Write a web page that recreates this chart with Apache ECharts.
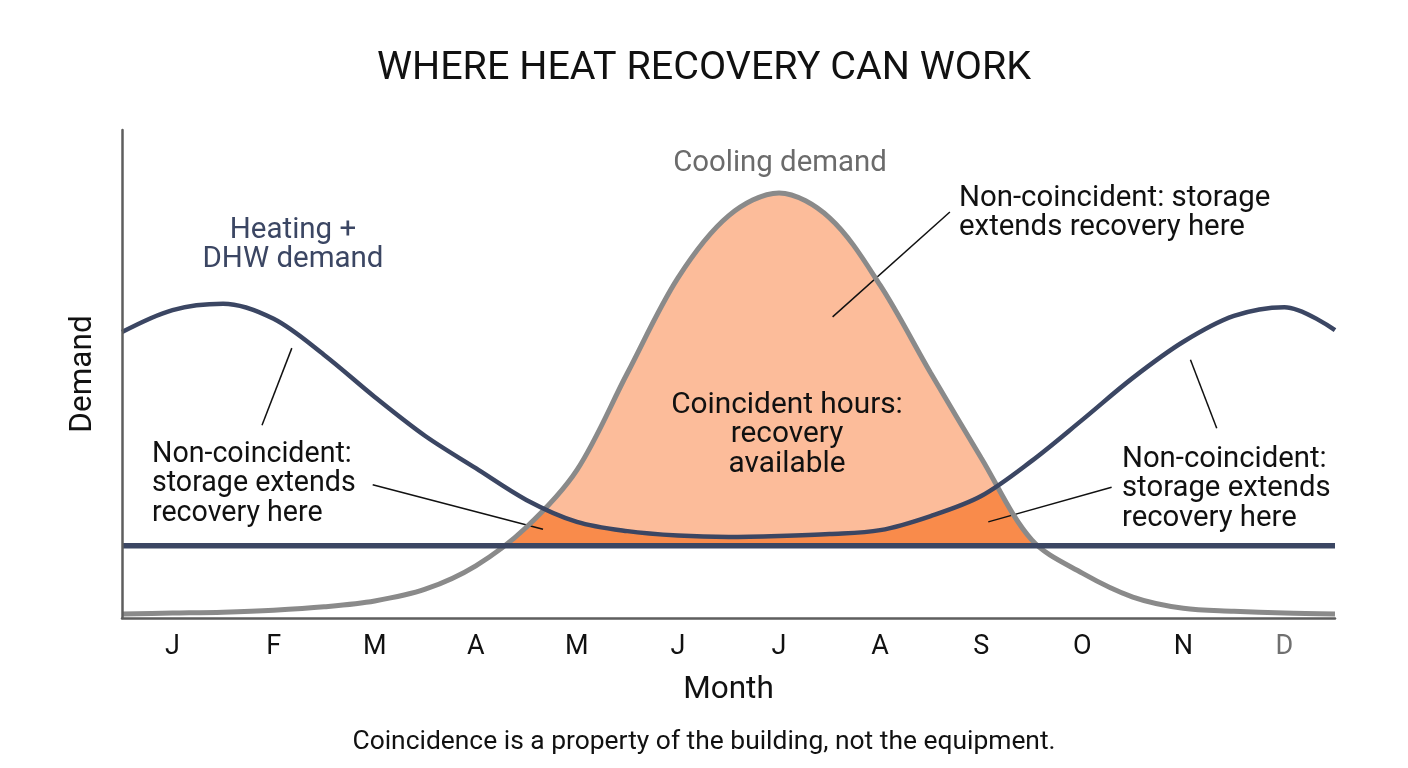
<!DOCTYPE html>
<html>
<head>
<meta charset="utf-8">
<title>Where heat recovery can work</title>
<script src="https://cdn.jsdelivr.net/npm/echarts@6/dist/echarts.min.js"></script>
<style>
  html, body { margin: 0; padding: 0; background: #fff; }
  #chart { width: 1408px; height: 768px; }
</style>
</head>
<body>
<div id="chart"></div>
<script>
// ── Data ────────────────────────────────────────────────────────────────
const months   = ['J', 'F', 'M', 'A', 'M', 'J', 'J', 'A', 'S', 'O', 'N', 'D'];
// x positions in months (0 = start of Jan, 12 = end of Dec)
const xs       = [0, 0.5, 1, 1.5, 2, 2.5, 3, 3.5, 4, 4.5, 5, 5.5, 6,
                  6.5, 7, 7.5, 8, 8.5, 9, 9.5, 10, 10.5, 11, 11.5, 12];
const heating  = [58.6, 63.1, 64.4, 61.3, 53.9, 45.3, 37.3, 30.7, 24.2, 19.7, 17.8, 16.9, 16.6,
                  16.8, 17.2, 18.0, 20.9, 25.0, 32.2, 40.6, 49.2, 56.6, 61.9, 63.7, 59.0];
const cooling  = [0.8, 1.0, 1.2, 1.6, 2.3, 3.5, 5.9, 10.7, 18.6, 30.3, 50.2, 69.7, 82.4,
                  87.1, 82.0, 68.2, 50.2, 32.8, 16.0, 9.2, 4.3, 2.0, 1.4, 1.0, 0.8];
const baseLevel = 14.8;       // constant base load line
// leader lines: [fromX, fromY, toX, toY] in month / demand units
const leaders  = [
  [1.68, 55.3, 1.385, 39.5],
  [2.48, 27.3, 4.165, 18.2],
  [7.03, 61.7, 8.19, 83.2],
  [10.57, 52.9, 10.83, 38.9],
  [9.79, 26.8, 8.57, 19.7],
];

// ── Style ───────────────────────────────────────────────────────────────
const fontFamily = 'Roboto, "Noto Sans", sans-serif';
const ink        = '#111111';
const navy       = '#3b4663';
const coolGrey   = '#8a8a8a';
const axisGrey   = '#5e5e5e';
const lightFill  = '#fcbc9a';
const darkFill   = '#f98b4b';
const smooth     = 0.33;

const heatPts = xs.map((x, i) => [x, heating[i]]);
const coolPts = xs.map((x, i) => [x, cooling[i]]);
const basePts = [[xs[0], baseLevel], [xs[xs.length - 1], baseLevel]];

const chart = echarts.init(document.getElementById('chart'), null, { renderer: 'canvas' });

function fill(data, color, origin, z) {
  return {
    type: 'line', data, smooth, symbol: 'none', silent: true, z,
    lineStyle: { width: 0 },
    areaStyle: { color, opacity: 1, origin },
  };
}

function note(text, x, y, align, color, size) {
  return {
    type: 'text', x, y, z: 100, silent: true,
    style: {
      text, fill: color || ink, font: (size || 29) + 'px ' + fontFamily,
      align: align, verticalAlign: 'middle', lineHeight: 29.5,
    },
  };
}

chart.setOption({
  animation: false,
  backgroundColor: '#fff',
  title: {
    text: 'WHERE HEAT RECOVERY CAN WORK',
    left: 'center', top: 44,
    textStyle: { fontFamily, fontSize: 39.5, fontWeight: 'normal', color: ink },
  },
  grid: { left: 122, right: 73, top: 130, bottom: 150 },
  xAxis: {
    type: 'value', min: 0, max: 12, interval: 0.5, z: 10,
    name: 'Month', nameLocation: 'middle', nameGap: 56,
    nameTextStyle: { fontFamily, fontSize: 31.5, color: ink },
    axisLine: { lineStyle: { color: axisGrey, width: 2.5 } },
    axisTick: { show: false },
    splitLine: { show: false },
    axisLabel: {
      margin: 16, fontFamily, fontSize: 27, color: ink,
      formatter: (v) => {
        const i = v - 0.5;
        if (!Number.isInteger(i)) return '';
        return i === 11 ? '{d|' + months[i] + '}' : months[i];
      },
      rich: { d: { fontFamily, fontSize: 27, color: '#707070' } },
    },
  },
  yAxis: {
    type: 'value', min: 0, max: 100, z: 10,
    name: 'Demand', nameLocation: 'middle', nameGap: 23, nameRotate: 90,
    nameTextStyle: { fontFamily, fontSize: 31.5, color: ink },
    axisLine: { show: true, lineStyle: { color: axisGrey, width: 2.5 } },
    axisTick: { show: false },
    axisLabel: { show: false },
    splitLine: { show: false },
  },
  series: [
    // fills: light under cooling, dark under heating, then whiten outside
    fill(coolPts, lightFill, 'start', 1),
    fill(heatPts, darkFill, 'start', 2),
    fill(coolPts, '#ffffff', 'end', 3),
    { ...fill(basePts, '#ffffff', 'start', 3), smooth: false },
    {
      name: 'Cooling', type: 'line', data: coolPts, smooth, symbol: 'none', silent: true, z: 5,
      lineStyle: { color: coolGrey, width: 5 },
    },
    {
      name: 'Heating', type: 'line', data: heatPts, smooth, symbol: 'none', silent: true, z: 6,
      lineStyle: { color: navy, width: 4.5 },
    },
    {
      name: 'Base', type: 'line', data: basePts, symbol: 'none', silent: true, z: 6,
      lineStyle: { color: navy, width: 5.5 },
      markLine: {
        silent: true, symbol: 'none', animation: false,
        lineStyle: { color: ink, width: 1.5, type: 'solid' },
        label: { show: false },
        data: leaders.map(([x1, y1, x2, y2]) => [{ coord: [x1, y1] }, { coord: [x2, y2] }]),
      },
    },
  ],
  graphic: [
    note('Cooling demand', 780, 164, 'center', '#6b6b6b', 29.4),
    note('Heating +\nDHW demand', 293, 245, 'center', navy, 29.5),
    note('Non-coincident:\nstorage extends\nrecovery here', 152, 484, 'left', ink, 28.6),
    note('Coincident hours:\nrecovery\navailable', 787, 435, 'center', ink, 29.8),
    note('Non-coincident: storage\nextends recovery here', 959, 213, 'left', ink, 29.4),
    note('Non-coincident:\nstorage extends\nrecovery here', 1122, 489, 'left', ink, 29.3),
    {
      type: 'text', x: 704, y: 742, z: 100, silent: true,
      style: {
        text: 'Coincidence is a property of the building, not the equipment.',
        fill: ink, font: '26.4px ' + fontFamily, align: 'center', verticalAlign: 'middle',
      },
    },
  ],
});
</script>
</body>
</html>
